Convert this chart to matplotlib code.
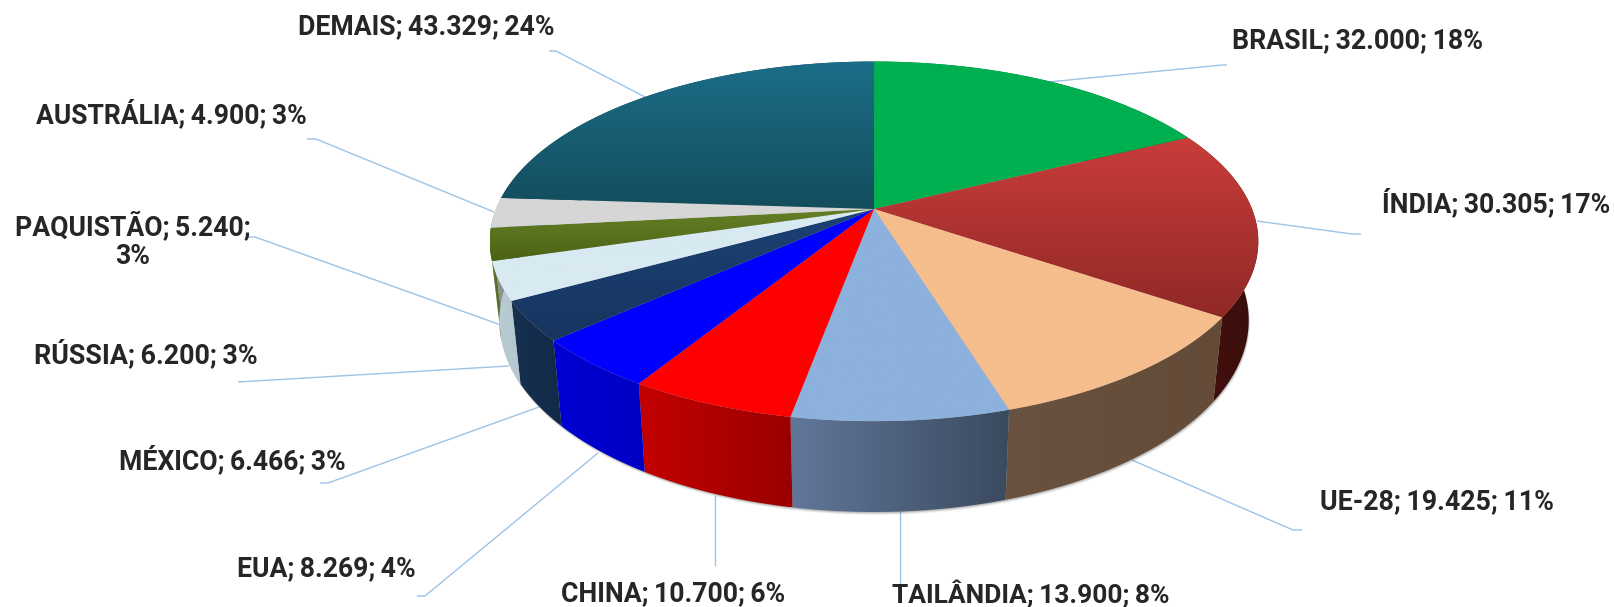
import numpy as np
import matplotlib
matplotlib.use('Agg')
import matplotlib.pyplot as plt
from matplotlib.colors import to_rgb
from matplotlib.patches import Polygon

# data
paises = ['BRASIL', 'ÍNDIA', 'UE-28', 'TAILÂNDIA', 'CHINA', 'EUA', 'MÉXICO', 'RÚSSIA', 'PAQUISTÃO', 'AUSTRÁLIA', 'DEMAIS']
valores = [32000, 30305, 19425, 13900, 10700, 8269, 6466, 6200, 5240, 4900, 43329]
rotulos = ['BRASIL;\u200932.000;\u200918%', 'ÍNDIA;\u200930.305;\u200917%', 'UE-28;\u200919.425;\u200911%',
           'TAILÂNDIA;\u200913.900;\u20098%', 'CHINA;\u200910.700;\u20096%', 'EUA;\u20098.269;\u20094%',
           'MÉXICO;\u20096.466;\u20093%', 'RÚSSIA;\u20096.200;\u20093%', 'PAQUISTÃO;\u20095.240;\n3%',
           'AUSTRÁLIA;\u20094.900;\u20093%', 'DEMAIS;\u200943.329;\u200924%']

# colours of the top face (top, bottom) and of the side (left, right)
topo_a = ['#00AF50', '#C93D3A', '#F6BD8D', '#8DB1DD', '#FF0000', '#0000FF', '#1C4175', '#D8EAF1', '#648126', '#D6D6D6', '#1B6E88']
topo_b = ['#00AF50', '#902826', '#F6BD8D', '#8DB1DD', '#FF0000', '#0000FF', '#17355F', '#D8EAF1', '#4C6214', '#D6D6D6', '#134D5D']
lado_a = ['#00752F', '#4A1210', '#6A5240', '#61779A', '#C40000', '#0000D2', '#16304F', '#BACCD4', '#5A6E2A', '#909090', '#0F3F4C']
lado_b = ['#00752F', '#380D0B', '#634B38', '#3A4A5F', '#9A0000', '#0000C4', '#122A48', '#B4C6CE', '#5A6E2A', '#909090', '#0F3F4C']

# label placement: left edge, right edge, baseline
rot_x0 = [1232, 1382, 1320, 892, 561, 237, 119, 34, 15, 36, 298]
rot_x1 = [1482, 1610, 1553, 1169, 785, 416, 346, 257, 250, 306, 554]
rot_y = [48, 212, 509, 603, 601, 576, 469, 363, 264, 123, 34]

# leader lines
guias = [
    [(1048, 82), (1222, 65), (1227, 65)],
    [(1257, 221), (1352, 234), (1361, 234)],
    [(1132, 460), (1293, 530), (1302, 530)],
    [(900, 510), (900, 585)],
    [(715, 495), (715, 566)],
    [(598, 453), (425, 596), (417, 596)],
    [(539, 407), (328, 483), (320, 483)],
    [(509, 366), (238, 382)],
    [(501, 325), (255, 237), (245, 237)],
    [(494, 212), (316, 139), (307, 139)],
    [(645, 97), (556, 51), (549, 51)],
]

# pie geometry in pixels
CX, CY = 874, 209
RX, RY = 378, 174
K = 0.18
ALT = 77
ESC_X, ESC_Y = 0.975, 1.065


def topo(theta):
    s = np.sin(theta)
    c = np.cos(theta)
    d = 1 + K * c
    return CX + RX * s / d, CY - RY * c / d


def base(theta):
    x, y = topo(theta)
    return CX + (x - CX) * ESC_X, CY + ALT + (y - CY) * ESC_Y


def preenche(ax, pts, c0, c1, horizontal, zorder):
    pts = np.array(pts)
    x0, x1 = pts[:, 0].min(), pts[:, 0].max()
    y0, y1 = pts[:, 1].min(), pts[:, 1].max()
    t = np.linspace(0, 1, 128)[:, None]
    cor = (1 - t) * np.array(to_rgb(c0)) + t * np.array(to_rgb(c1))
    img = cor[None, :, :] if horizontal else cor[:, None, :]
    im = ax.imshow(img, extent=(x0, x1, y1, y0), aspect='auto', zorder=zorder, interpolation='bilinear')
    pol = Polygon(pts, closed=True, transform=ax.transData, fc='none', ec='none')
    ax.add_patch(pol)
    im.set_clip_path(pol)


fig = plt.figure(figsize=(16.14, 6.07), dpi=100)
ax = fig.add_axes([0, 0, 1, 1])
ax.axis('off')

# leaders go behind the pie
for g in guias:
    g = np.array(g)
    ax.plot(g[:, 0], g[:, 1], color='#9DC3E6', lw=1.0, zorder=1, solid_capstyle='butt')

# soft shadow under the side
todos = np.linspace(0, 2 * np.pi, 400)
bx, by = base(todos)
for off, a in zip([3, 2.2, 1.5, 0.8], [0.06, 0.09, 0.12, 0.16]):
    ax.fill(bx + off * 0.4, by + off, color='#404040', alpha=a, lw=0, zorder=1.5)

fr = np.array(valores) / sum(valores)
limites = np.concatenate([[0], np.cumsum(fr)]) * 2 * np.pi

for i in range(len(valores)):
    arco = np.linspace(limites[i], limites[i + 1], 120)
    tx, ty = topo(arco)
    bx, by = base(arco)
    lado = list(zip(tx, ty)) + list(zip(bx[::-1], by[::-1]))
    preenche(ax, lado, lado_a[i], lado_b[i], True, 2)

for i in range(len(valores)):
    arco = np.linspace(limites[i], limites[i + 1], 120)
    tx, ty = topo(arco)
    face = [(CX, CY)] + list(zip(tx, ty))
    preenche(ax, face, topo_a[i], topo_b[i], False, 3)

ax.set_xlim(0, 1614)
ax.set_ylim(607, 0)

# labels, sized to the width they take in the picture
rend = fig.canvas.get_renderer()
for i, rot in enumerate(rotulos):
    t = ax.text(rot_x0[i], rot_y[i], rot, family=['Roboto', 'DejaVu Sans'], fontweight='bold', fontsize=20,
                color='#262626', ha='left', va='baseline', multialignment='center', zorder=5, linespacing=1.1)
    w = t.get_window_extent(rend).width
    t.set_fontsize(20 * (rot_x1[i] - rot_x0[i]) / w)

fig.savefig('out.png', dpi=100)
